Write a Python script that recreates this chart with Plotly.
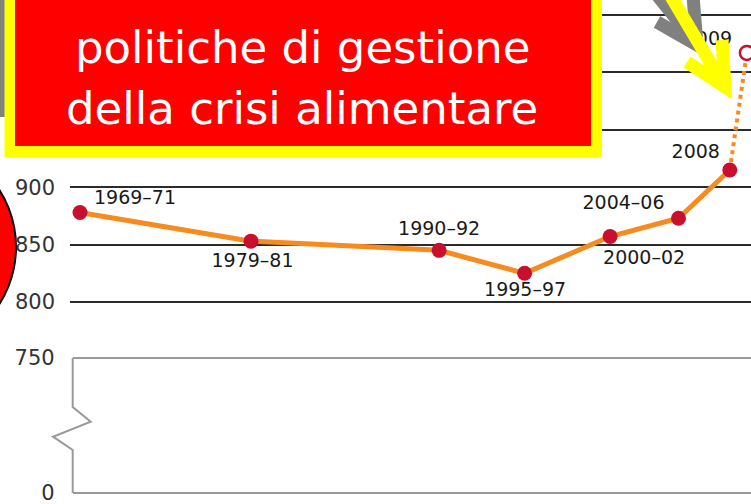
import plotly.graph_objects as go

# ---- data ----
periods = ["1969–71", "1979–81", "1990–92", "1995–97", "2000–02", "2004–06", "2008", "2009"]
mid_years = [1970, 1980, 1991, 1996, 2001, 2005, 2008, 2009]
undernourished = [878, 853, 845, 825, 857, 873, 915, 1017]
top_ticks = [800, 850, 900, 950, 1000, 1050]
bottom_ticks = [0, 750]
title_lines = ["politiche di gestione", "della crisi alimentare"]

# ---- geometry helpers (pixel -> paper) ----
W, H = 751, 504
def px(x): return x / W
def py(y): return 1 - y / H

PX_PER_YEAR = 17.1
PX_PER_UNIT = 1.148

ORANGE = "#F68B1F"
CRIMSON = "#C8102E"

fig = go.Figure()

fig.add_trace(go.Scatter(x=mid_years[:7], y=undernourished[:7], mode="lines",
                         line=dict(color=ORANGE, width=5), xaxis="x", yaxis="y",
                         hoverinfo="skip"))
fig.add_trace(go.Scatter(x=mid_years[6:8], y=undernourished[6:8], mode="lines",
                         line=dict(color=ORANGE, width=4, dash="dot"), xaxis="x", yaxis="y",
                         hoverinfo="skip"))
fig.add_trace(go.Scatter(x=mid_years[:7], y=undernourished[:7], mode="markers",
                         marker=dict(color=CRIMSON, size=15, line=dict(width=0)),
                         xaxis="x", yaxis="y"))
fig.add_trace(go.Scatter(x=mid_years[7:], y=undernourished[7:], mode="markers",
                         marker=dict(color="white", size=14, line=dict(color=CRIMSON, width=2.5)),
                         xaxis="x", yaxis="y", cliponaxis=False))

label_dx = [55, 1.5, 0, 0.5, 34, -55, -34, -39]
label_dy = [-13, 21.5, -20, 17.5, 23, -14, -17, -13]  # screen pixels (down positive)
lx = [x + dx / PX_PER_YEAR for x, dx in zip(mid_years, label_dx)]
ly = [y - dy / PX_PER_UNIT for y, dy in zip(undernourished, label_dy)]
fig.add_trace(go.Scatter(x=lx, y=ly, mode="text", text=periods, textposition="middle center",
                         textfont=dict(family="DejaVu Sans", size=19, color="#1a1a1a"),
                         xaxis="x", yaxis="y", hoverinfo="skip", cliponaxis=False))

fig.add_trace(go.Scatter(x=[None], y=[None], mode="markers", xaxis="x2", yaxis="y2",
                         hoverinfo="skip"))

# ---- axes ----
x_left = 1970 + (70 - 80) / PX_PER_YEAR
x_right = 1970 + (751 - 80) / PX_PER_YEAR
y_top_max = 1050 + 15 / PX_PER_UNIT
y_top_min = 1050 - (320 - 15) / PX_PER_UNIT

low_scale = (493 - 358) / 750.0
y_low_max = 750 + (358 - 350) / low_scale
y_low_min = 0 - (504 - 493) / low_scale

tickfont = dict(family="DejaVu Sans", size=21, color="#333333")

fig.update_layout(
    width=W, height=H,
    margin=dict(l=0, r=0, t=0, b=0),
    paper_bgcolor="white", plot_bgcolor="white",
    showlegend=False,
    xaxis=dict(domain=[px(70), 1], range=[x_left, x_right], visible=False, anchor="y"),
    yaxis=dict(domain=[py(320), 1], range=[y_top_min, y_top_max], anchor="x",
               tickvals=top_ticks, ticktext=[str(v) for v in top_ticks],
               showgrid=True, gridcolor="#2b2b2b", gridwidth=2,
               zeroline=False, showline=False, ticks="", tickfont=tickfont,
               ticklabelstandoff=14, ticklabeloverflow="allow", automargin=False),
    xaxis2=dict(domain=[px(72.7), 1], range=[x_left, x_right], visible=False, anchor="y2"),
    yaxis2=dict(domain=[0, py(350)], range=[y_low_min, y_low_max], anchor="x2",
                tickvals=bottom_ticks, ticktext=[str(v) for v in bottom_ticks],
                showgrid=True, gridcolor="#9a9a9a", gridwidth=2,
                zeroline=False, showline=False, ticks="", tickfont=tickfont,
                ticklabelstandoff=17, ticklabeloverflow="allow", automargin=False),
)

# ---- decorations ----
def path(points):
    return " ".join(("M" if i == 0 else "L") + f" {px(x):.5f},{py(y):.5f}" for i, (x, y) in enumerate(points))

shapes = []
shapes.append(dict(type="path", xref="paper", yref="paper", layer="above",
                   path=path([(72.7, 358), (72.7, 407), (90.7, 421.7), (53, 436.7), (72.7, 450), (72.7, 493)]),
                   line=dict(color="#9a9a9a", width=2)))
shapes.append(dict(type="rect", xref="paper", yref="paper", layer="above",
                   x0=px(-5), x1=px(6), y0=py(117), y1=py(-5),
                   fillcolor="#808080", line=dict(width=0)))
shapes.append(dict(type="circle", xref="paper", yref="paper", layer="above",
                   x0=px(-196), x1=px(16), y0=py(353), y1=py(141),
                   fillcolor="#FF0000", line=dict(color="black", width=2)))
shapes.append(dict(type="rect", xref="paper", yref="paper", layer="above",
                   x0=px(4.5), x1=px(602), y0=py(157), y1=py(-10),
                   fillcolor="#FFFF00", line=dict(width=0)))
shapes.append(dict(type="rect", xref="paper", yref="paper", layer="above",
                   x0=px(15), x1=px(591), y0=py(146), y1=py(-10),
                   fillcolor="#FF0000", line=dict(width=0)))
shapes.append(dict(type="path", xref="paper", yref="paper", layer="above",
                   path=path([(645, -20), (697, 45)]), line=dict(color="#808080", width=13)))
shapes.append(dict(type="path", xref="paper", yref="paper", layer="above",
                   path=path([(657, 22), (697, 45), (693, -4)]), line=dict(color="#808080", width=13)))
shapes.append(dict(type="path", xref="paper", yref="paper", layer="above",
                   path=path([(666, -12), (723, 84)]), line=dict(color="#FFFF00", width=13)))
shapes.append(dict(type="path", xref="paper", yref="paper", layer="above",
                   path=path([(687, 62), (725, 87), (722, 40)]), line=dict(color="#FFFF00", width=13)))
fig.update_layout(shapes=shapes)

for line, yc in zip(title_lines, [47, 108]):
    fig.add_annotation(text=line, xref="paper", yref="paper", x=px(302), y=py(yc),
                       xanchor="center", yanchor="middle", showarrow=False,
                       font=dict(family="DejaVu Sans", size=45, color="white"))

fig.write_html("out.html", config={"displayModeBar": False},
               post_script="document.body.style.margin='0';document.body.style.overflow='hidden';")
